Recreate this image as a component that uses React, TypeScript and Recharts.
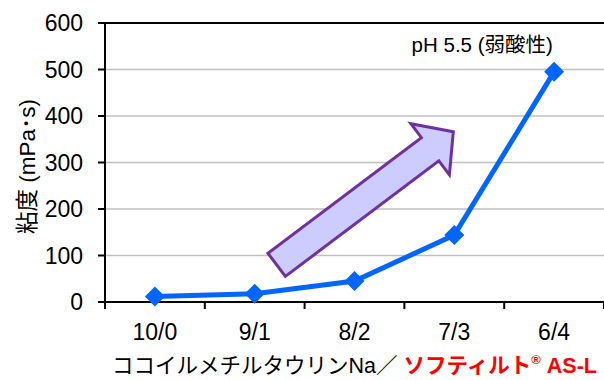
import React from 'react';
import { LineChart, Line, XAxis, YAxis, CartesianGrid, ReferenceLine, ReferenceDot } from 'recharts';

const categories = ['10/0', '9/1', '8/2', '7/3', '6/4'];
const viscosity = [12, 18, 45, 144, 495];
const yTicks = [0, 100, 200, 300, 400, 500, 600];
const xTicks = [0, 0.5, 1, 1.5, 2, 2.5, 3, 3.5, 4, 4.5, 5];
const yTitle = '粘度 (mPa･s)';
const xTitleBlack = 'ココイルメチルタウリンNa／ ';
const xTitleRed = 'ソフティルト';
const xTitleRed2 = ' AS-L';
const noteText = 'pH 5.5 (弱酸性)';
// arrow annotation: tail and tip in data space (x position, viscosity)
const arrowTail = { x: 1.72, y: 80 };
const arrowTip = { x: 3.49, y: 366 };
const noteAt = { x: 3.78, y: 553 };

const data = categories.map((c, i) => ({ pos: i + 0.5, label: c, v: viscosity[i] }));

const FONT = '"Liberation Sans", Arial, "Noto Sans CJK JP", sans-serif';

const XTick = (props: any) => {
  const { x, y, payload } = props;
  const v = payload.value as number;
  if (Number.isInteger(v)) {
    return <line x1={x} x2={x} y1={y - 7} y2={y} stroke="#000" strokeWidth={2} />;
  }
  const idx = Math.floor(v);
  return (
    <text x={x} y={y + 31} textAnchor="middle" fontSize={23} fill="#000">
      {categories[idx]}
    </text>
  );
};

const Diamond = (props: any) => {
  const { cx, cy, index } = props;
  const r = 10;
  return (
    <polygon
      key={`d-${index}`}
      points={`${cx},${cy - r} ${cx + r},${cy} ${cx},${cy + r} ${cx - r},${cy}`}
      fill="#0066ff"
    />
  );
};

const ArrowShape = (props: any) => {
  const { x1, y1, x2, y2 } = props;
  const L = Math.hypot(x2 - x1, y2 - y1);
  const dx = (x2 - x1) / L;
  const dy = (y2 - y1) / L;
  const nx = -dy;
  const ny = dx;
  const hw = 14.5;
  const hh = 32;
  const hl = 29;
  const bx = x2 - dx * hl;
  const by = y2 - dy * hl;
  const pts = [
    [x1 + nx * hw, y1 + ny * hw],
    [bx + nx * hw, by + ny * hw],
    [bx + nx * hh, by + ny * hh],
    [x2, y2],
    [bx - nx * hh, by - ny * hh],
    [bx - nx * hw, by - ny * hw],
    [x1 - nx * hw, y1 - ny * hw],
  ]
    .map((p) => `${p[0]},${p[1]}`)
    .join(' ');
  return <polygon points={pts} fill="#ccccff" stroke="#7030a0" strokeWidth={3} strokeLinejoin="miter" />;
};

const YTitle = (props: any) => {
  const { viewBox } = props;
  const cx = viewBox.x + 27;
  const cy = viewBox.y + viewBox.height / 2 + 4;
  return (
    <text x={cx} y={cy} transform={`rotate(-90, ${cx}, ${cy})`} textAnchor="middle" dominantBaseline="central" fontSize={22.5} fill="#000">
      {yTitle}
    </text>
  );
};

const XTitle = (props: any) => {
  const { viewBox } = props;
  const cx = viewBox.x + viewBox.width / 2;
  return (
    <text x={cx} y={373} textAnchor="middle" fontSize={21.5} fill="#000">
      <tspan>{xTitleBlack}</tspan>
      <tspan fill="#ff0000" fontWeight="bold">{xTitleRed}</tspan>
      <tspan fill="#ff0000" fontWeight="bold" fontSize={13} dy={-9}>®</tspan>
      <tspan fill="#ff0000" fontWeight="bold" dy={9}>{xTitleRed2}</tspan>
    </text>
  );
};

export default function App() {
  return (
    <div style={{ position: 'absolute', left: 0, top: 0, width: 604, height: 380, background: '#fff', fontFamily: FONT }}>
      <LineChart width={604} height={380} data={data} margin={{ top: 23, right: 0, bottom: 0, left: 0 }}>
        <CartesianGrid vertical={false} stroke="#c0c0c0" strokeWidth={1.5} />
        <XAxis
          dataKey="pos"
          type="number"
          domain={[0, 5]}
          ticks={xTicks}
          interval={0}
          height={78}
          tickLine={false}
          tickSize={7}
          tickMargin={0}
          axisLine={{ stroke: '#000', strokeWidth: 2 }}
          tick={<XTick />}
          label={<XTitle />}
        />
        <YAxis
          type="number"
          domain={[0, 600]}
          ticks={yTicks}
          interval={0}
          width={105}
          tickSize={7}
          tickMargin={15}
          axisLine={{ stroke: '#000', strokeWidth: 2 }}
          tickLine={{ stroke: '#000', strokeWidth: 2 }}
          tick={{ fill: '#000', fontSize: 23 }}
          label={<YTitle />}
        />
        <ReferenceLine y={600} stroke="#000" strokeWidth={2} />
        <ReferenceLine
          segment={[arrowTail, arrowTip]}
          shape={(p: any) => <ArrowShape {...p} />}
        />
        <ReferenceDot
          x={noteAt.x}
          y={noteAt.y}
          r={0}
          fill="none"
          stroke="none"
          label={{ value: noteText, position: 'center', fontSize: 20.5, fill: '#000' }}
        />
        <Line
          dataKey="v"
          stroke="#0066ff"
          strokeWidth={5}
          dot={<Diamond />}
          activeDot={false}
          isAnimationActive={false}
          legendType="none"
        />
      </LineChart>
    </div>
  );
}
